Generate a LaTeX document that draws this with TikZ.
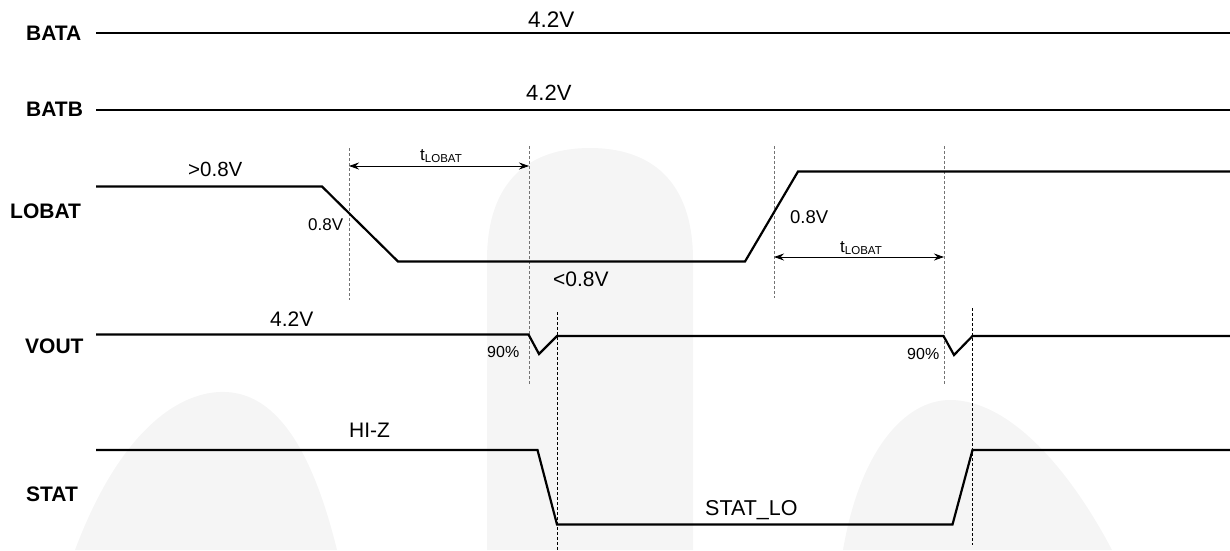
\documentclass[tikz,border=0pt]{standalone}
\usepackage{fontspec}
\setmainfont{Liberation Sans}
\usetikzlibrary{arrows.meta}
\begin{document}
\begin{tikzpicture}[x=1pt,y=-1pt,
  sig/.style={line width=2.2pt,line join=miter},
  guide/.style={draw=black!55,line width=0.8pt,dash pattern=on 3pt off 2pt},
  guideb/.style={draw=black,line width=0.8pt,dash pattern=on 3pt off 2pt},
  dim/.style={line width=0.8pt,{Stealth[length=10pt,width=7pt]}-{Stealth[length=10pt,width=7pt]}},
  lbl/.style={inner sep=0pt,anchor=base west,font=\fontsize{21}{24}\selectfont\bfseries},
  val/.style={inner sep=0pt,anchor=base west,font=\fontsize{21}{24}\selectfont},
  sml/.style={inner sep=0pt,anchor=base west,font=\fontsize{17}{20}\selectfont},
  wm/.style={fill=black!4,draw=none}]
\useasboundingbox (0,0) rectangle (1230,550);
% watermark shapes
\fill[wm] (487,550) -- (487,260) .. controls (487,180) and (530,148) .. (590,148)
  .. controls (650,148) and (693,180) .. (693,260) -- (693,550) -- cycle;
\fill[wm] (75,550) .. controls (120,430) and (180,390) .. (226,392)
  .. controls (272,394) and (310,440) .. (337,550) -- cycle;
\fill[wm] (843,550) .. controls (860,450) and (905,400) .. (950,400)
  .. controls (1010,400) and (1070,470) .. (1112,550) -- cycle;

% labels
\node[lbl] (la) at (26,40) {BATA};
\node[lbl] (lb) at (26,116) {BATB};
\node[lbl] (ll) at (10,218) {LOBAT};
\node[lbl] (lv) at (25,353) {VOUT};
\node[lbl] (ls) at (26,501) {STAT};

% guide coordinates
\coordinate (g1t) at (349,148); \coordinate (g1b) at (349,300);
\coordinate (g2t) at (529,146); \coordinate (g2b) at (529,385);
\coordinate (g3t) at (774,146); \coordinate (g3b) at (774,298);
\coordinate (g4t) at (944,146); \coordinate (g4b) at (944,384);
\coordinate (g5t) at (557,312); \coordinate (g5b) at (557,550);
\coordinate (g6t) at (972.5,308); \coordinate (g6b) at (972.5,545);
\draw[guide] (g1t) -- (g1b);
\draw[guide] (g2t) -- (g2b);
\draw[guide] (g3t) -- (g3b);
\draw[guide] (g4t) -- (g4b);
\draw[guideb] (g5t) -- (g5b);
\draw[guideb] (g6t) -- (g6b);

% BATA, BATB
\draw[sig] (96,33) -- (1230,33);
\node[val,font=\fontsize{22.5}{26}\selectfont] (va) at (528,27) {4.2V};
\draw[sig] (96,110) -- (1230,110);
\node[val,font=\fontsize{22}{26}\selectfont] (vb) at (526,100) {4.2V};

% LOBAT
\draw[sig] (96,186.5) -- (322,186.5) -- (398,261.5) -- (745,261.5) -- (798,171.5) -- (1230,171.5);
\node[val,font=\fontsize{20.5}{24}\selectfont] (lh) at (188,176) {>0.8V};
\node[sml] (l1) at (308,230) {0.8V};
\node[sml,font=\fontsize{18.5}{22}\selectfont] (l2) at (790,223) {0.8V};
\node[val] (ll2) at (553,286) {<0.8V};
\coordinate (a1l) at (349,166); \coordinate (a1r) at (529,166);
\draw[dim] (a1l) -- (a1r);
\node[inner sep=0pt,anchor=base west,font=\fontsize{17}{20}\selectfont] (t1) at (420,160) {t\raisebox{-2pt}{\fontsize{11.5}{12}\selectfont LOBAT}};
\coordinate (a2l) at (774,257); \coordinate (a2r) at (944,257);
\draw[dim] (a2l) -- (a2r);
\node[inner sep=0pt,anchor=base west,font=\fontsize{17}{20}\selectfont] (t2) at (840,252) {t\raisebox{-2pt}{\fontsize{11.5}{12}\selectfont LOBAT}};

% VOUT
\draw[sig] (96,334.5) -- (528.5,334.5) -- (539,354) -- (557,336) -- (943.5,336) -- (954,355) -- (972.5,336) -- (1230,336);
\node[val] (v42) at (270,326) {4.2V};
\node[sml,font=\fontsize{16}{19}\selectfont] (p1) at (487,357) {90\%};
\node[sml,font=\fontsize{16}{19}\selectfont] (p2) at (907,359) {90\%};

% STAT
\draw[sig] (96,450) -- (537.5,450) -- (557,524.5) -- (952.5,524.5) -- (972.5,450) -- (1230,450);
\node[val] (hz) at (349,437) {HI-Z};
\node[val,font=\fontsize{21.5}{24}\selectfont] (sl) at (705,515) {STAT\_LO};
\end{tikzpicture}
\end{document}
